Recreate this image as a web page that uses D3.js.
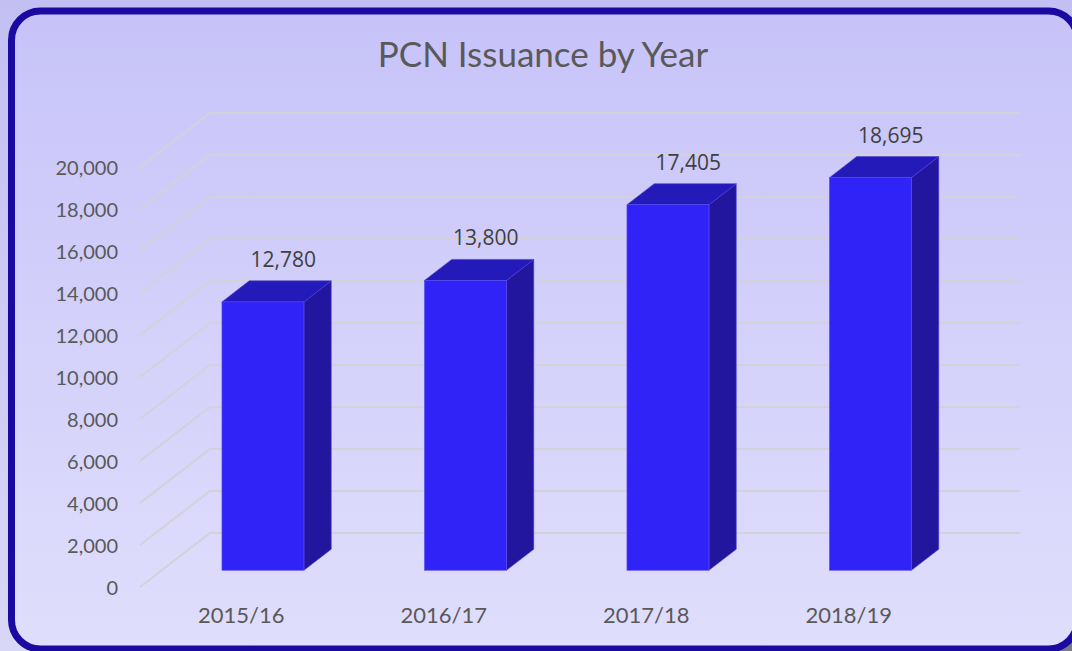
<!DOCTYPE html>
<html>
<head>
<meta charset="utf-8">
<script src="https://cdn.jsdelivr.net/npm/d3@7"></script>
<style>
  html, body { margin: 0; padding: 0; background: #c9c6f2; }
  svg { display: block; }
</style>
</head>
<body>
<div id="chart"></div>
<script>
// chart data
var categories = ['2015/16', '2016/17', '2017/18', '2018/19'];
var values = [12780, 13800, 17405, 18695];
var yTicks = [0, 2000, 4000, 6000, 8000, 10000, 12000, 14000, 16000, 18000, 20000];
var title = 'PCN Issuance by Year';

var W = 1072, H = 651;
// depth of the 3d floor (front -> back wall)
var depthX = 70, depthY = -54;
// bar occupies this slice of the depth
var barD0 = 0.31, barD1 = 0.70;

var svg = d3.select('#chart').append('svg')
    .attr('width', W)
    .attr('height', H);

var defs = svg.append('defs');
var grad = defs.append('linearGradient').attr('id', 'bg').attr('x1', 0).attr('y1', 0).attr('x2', 0).attr('y2', 1);
grad.append('stop').attr('offset', '0%').attr('stop-color', '#c7c3f9');
grad.append('stop').attr('offset', '100%').attr('stop-color', '#e0defc');
var outer = defs.append('linearGradient').attr('id', 'outer').attr('x1', 0).attr('y1', 0).attr('x2', 0).attr('y2', 1);
outer.append('stop').attr('offset', '0%').attr('stop-color', '#c3bff2');
outer.append('stop').attr('offset', '100%').attr('stop-color', '#d9d7f6');

svg.append('rect').attr('width', W).attr('height', H).attr('fill', 'url(#outer)');
// little grey shadow in the bottom right corner
svg.append('rect')
    .attr('x', 1040).attr('y', 620).attr('width', 40).attr('height', 40)
    .attr('fill', '#7a7a86');
// panel (right edge runs off the picture)
svg.append('rect')
    .attr('x', 11.5).attr('y', 11).attr('width', 1066).attr('height', 638)
    .attr('rx', 29)
    .attr('fill', 'url(#bg)')
    .attr('stroke', '#1a0aa2')
    .attr('stroke-width', 7);

// scales
var xScale = d3.scaleBand()
    .domain(categories)
    .range([140, 950])
    .paddingInner(0.595)
    .paddingOuter(0.2975);
var yScale = d3.scaleLinear()
    .domain([0, 20000])
    .range([587, 167]);

// project a front-plane point into the depth
function px(x, d) { return x + d * depthX; }
function py(y, d) { return y + d * depthY; }

// gridlines: diagonal on the floor side + horizontal on back wall
var grid = svg.append('g').attr('class', 'grid');
grid.selectAll('path')
    .data(yTicks)
    .enter()
    .append('path')
    .attr('d', function(v) {
        var y = yScale(v);
        return 'M' + 140 + ',' + y + 'L' + px(140, 1) + ',' + py(y, 1) + 'L' + px(950, 1) + ',' + py(y, 1);
    })
    .attr('fill', 'none')
    .attr('stroke', '#d2d2d8')
    .attr('stroke-width', 2);

// y axis labels
var yAxis = d3.axisLeft(yScale)
    .tickValues(yTicks)
    .tickSize(0)
    .tickPadding(0)
    .tickFormat(d3.format(','));
var yAxisG = svg.append('g')
    .attr('transform', 'translate(118,0)')
    .call(yAxis);
yAxisG.select('.domain').remove();
yAxisG.selectAll('text')
    .attr('dy', '0.35em')
    .style('font-family', 'Lato, sans-serif')
    .style('font-size', '20px')
    .attr('fill', '#595959');

// bars
var bars = svg.append('g').selectAll('g')
    .data(values)
    .enter()
    .append('g');

function barGeom(d, i) {
    var x0 = xScale(categories[i]), x1 = x0 + xScale.bandwidth();
    var yb = yScale(0), yt = yScale(d);
    return { x0: x0, x1: x1, yb: yb, yt: yt };
}

// side face
bars.append('path')
    .attr('d', function(d, i) {
        var g = barGeom(d, i);
        return 'M' + px(g.x1, barD0) + ',' + py(g.yb, barD0) +
            'L' + px(g.x1, barD1) + ',' + py(g.yb, barD1) +
            'L' + px(g.x1, barD1) + ',' + py(g.yt, barD1) +
            'L' + px(g.x1, barD0) + ',' + py(g.yt, barD0) + 'Z';
    })
    .attr('fill', '#21169d')
    .attr('stroke', '#4b40d8')
    .attr('stroke-width', 0.6);
// top face
bars.append('path')
    .attr('d', function(d, i) {
        var g = barGeom(d, i);
        return 'M' + px(g.x0, barD0) + ',' + py(g.yt, barD0) +
            'L' + px(g.x0, barD1) + ',' + py(g.yt, barD1) +
            'L' + px(g.x1, barD1) + ',' + py(g.yt, barD1) +
            'L' + px(g.x1, barD0) + ',' + py(g.yt, barD0) + 'Z';
    })
    .attr('fill', '#2419b9')
    .attr('stroke', '#4b40d8')
    .attr('stroke-width', 0.6);
// front face
bars.append('rect')
    .attr('x', function(d, i) { return px(barGeom(d, i).x0, barD0); })
    .attr('y', function(d, i) { return py(barGeom(d, i).yt, barD0); })
    .attr('width', xScale.bandwidth())
    .attr('height', function(d) { return yScale(0) - yScale(d); })
    .attr('fill', '#3023f8')
    .attr('stroke', '#5a50f0')
    .attr('stroke-width', 0.6);

// value labels
bars.append('text')
    .attr('x', function(d, i) { return px(xScale(categories[i]) + xScale.bandwidth() / 2, 0.6); })
    .attr('y', function(d) { return py(yScale(d), barD1) - 14; })
    .attr('text-anchor', 'middle')
    .style('font-family', '"Open Sans", sans-serif')
    .style('font-size', '21px')
    .attr('fill', '#404040')
    .text(function(d) { return d3.format(',')(d); });

// category labels
svg.append('g').selectAll('text')
    .data(categories)
    .enter()
    .append('text')
    .attr('x', function(d) { return xScale(d) + xScale.bandwidth() / 2; })
    .attr('y', 623)
    .attr('text-anchor', 'middle')
    .style('font-family', 'Lato, sans-serif')
    .style('font-size', '22px')
    .attr('fill', '#595959')
    .text(function(d) { return d; });

// title
svg.append('text')
    .attr('x', 543)
    .attr('y', 67)
    .attr('text-anchor', 'middle')
    .style('font-family', 'Lato, sans-serif')
    .style('font-size', '35px')
    .attr('fill', '#595959')
    .text(title);
</script>
</body>
</html>
